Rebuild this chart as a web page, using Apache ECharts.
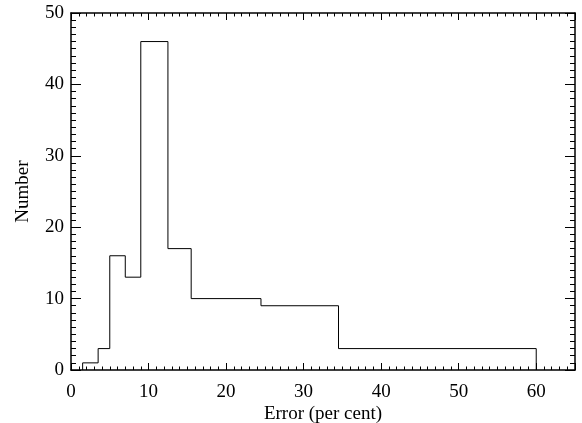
<!DOCTYPE html>
<html>
<head>
<meta charset="utf-8">
<script src="https://cdn.jsdelivr.net/npm/echarts@6/dist/echarts.min.js"></script>
<style>html,body{margin:0;padding:0;background:#fff}#c{width:582px;height:423px}</style>
</head>
<body>
<div id="c"></div>
<script>
// Histogram bin edges (per cent) and counts
var binEdges = [1.5, 3.5, 5, 7, 9, 12.5, 15.5, 24.5, 34.5, 60];
var binCounts = [1, 3, 16, 13, 46, 17, 10, 9, 3];
var xTicks = [0, 10, 20, 30, 40, 50, 60];
var yTicks = [0, 10, 20, 30, 40, 50];
var xTitle = 'Error (per cent)';
var yTitle = 'Number';

// Build the histogram outline from the arrays
var outline = [[binEdges[0], 0]];
for (var i = 0; i < binCounts.length; i++) {
  outline.push([binEdges[i], binCounts[i]]);
  outline.push([binEdges[i + 1], binCounts[i]]);
}
outline.push([binEdges[binEdges.length - 1], 0]);

var font = 'Liberation Serif';
function xAx(pos, showLabel) {
  return {
    type: 'value', position: pos, min: 0, max: 65, interval: 10,
    axisLine: { show: true, onZero: false, lineStyle: { color: '#000', width: 1.5 } },
    axisTick: { show: true, inside: true, length: 7, lineStyle: { color: '#000', width: 1 } },
    minorTick: { show: true, splitNumber: 10, length: 3.5, lineStyle: { color: '#000', width: 1 } },
    splitLine: { show: false },
    axisLabel: { show: showLabel, color: '#000', fontFamily: font, fontSize: 19, margin: 13,
      formatter: function (v) { return xTicks.indexOf(v) >= 0 ? String(v) : ''; } },
    name: showLabel ? xTitle : '', nameLocation: 'middle', nameGap: 35, nameMoveOverlap: false,
    nameTextStyle: { color: '#000', fontFamily: font, fontSize: 19 }
  };
}
function yAx(pos, showLabel) {
  return {
    type: 'value', position: pos, min: 0, max: 50, interval: 10,
    axisLine: { show: true, onZero: false, lineStyle: { color: '#000', width: 1.5 } },
    axisTick: { show: true, inside: true, length: 10, lineStyle: { color: '#000', width: 1 } },
    minorTick: { show: true, splitNumber: 10, length: 5, lineStyle: { color: '#000', width: 1 } },
    splitLine: { show: false },
    axisLabel: { show: showLabel, color: '#000', fontFamily: font, fontSize: 19, margin: 7,
      formatter: function (v) { return yTicks.indexOf(v) >= 0 ? String(v) : ''; } },
    name: showLabel ? yTitle : '', nameLocation: 'middle', nameGap: 38, nameMoveOverlap: false,
    nameTextStyle: { color: '#000', fontFamily: font, fontSize: 19 }
  };
}

var chart = echarts.init(document.getElementById('c'), null, { renderer: 'canvas' });
chart.setOption({
  animation: false,
  backgroundColor: '#fff',
  grid: { left: 71, top: 13, right: 7, bottom: 53, containLabel: false, outerBoundsMode: 'none' },
  xAxis: [xAx('bottom', true), xAx('top', false)],
  yAxis: [yAx('left', true), yAx('right', false)],
  series: [{
    type: 'line', xAxisIndex: 0, yAxisIndex: 0,
    data: outline, symbol: 'none', clip: false,
    lineStyle: { color: '#000', width: 1 }
  }]
});
</script>
</body>
</html>
